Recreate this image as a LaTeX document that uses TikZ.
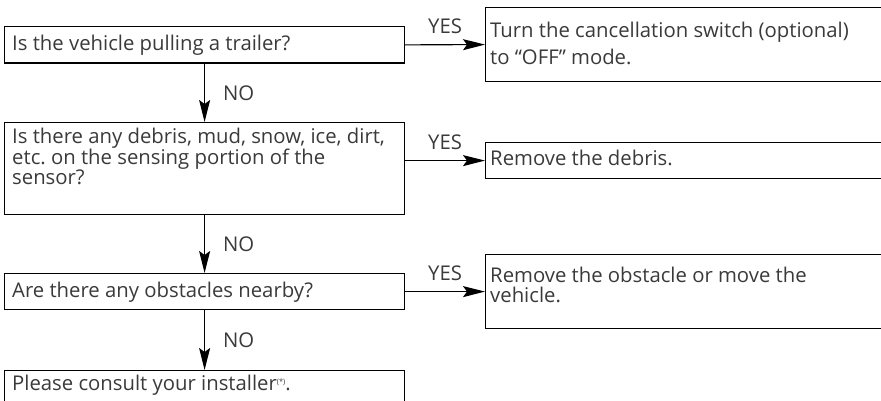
\documentclass[tikz,border=0pt]{standalone}
\usepackage{fontspec}
\setmainfont{Open Sans}
\usetikzlibrary{arrows.meta}
\definecolor{txtgray}{RGB}{58,58,58}
\newcommand{\ftxt}{\fontsize{20.3}{20}\selectfont\frenchspacing}
\tikzset{
  box/.style={draw=black, line width=1.2pt, rectangle, inner sep=0pt, anchor=north west},
  txt/.style={anchor=base west, inner sep=0pt, text=txtgray, font=\ftxt},
  conn/.style={draw=black, line width=1.1pt, -{Stealth[length=22pt,width=11pt,inset=4pt]}},
  lbl/.style={inner sep=0pt, text=txtgray, font=\ftxt}
}
\begin{document}
\begin{tikzpicture}[x=1pt,y=-1pt]
\useasboundingbox (0,0) rectangle (881,401);
\clip (0,0) rectangle (881,401);
% boxes
\node[box, minimum width=400pt, minimum height=36.5pt] (l1) at (4,26) {};
\node[box, minimum width=420pt, minimum height=74pt] (r1) at (485,7) {};
\node[box, minimum width=400pt, minimum height=92pt] (l2) at (4,122) {};
\node[box, minimum width=420pt, minimum height=36pt] (r2) at (485,142) {};
\node[box, minimum width=400pt, minimum height=36pt] (l3) at (4,273) {};
\node[box, minimum width=420pt, minimum height=74pt] (r3) at (485,254) {};
\node[box, minimum width=400pt, minimum height=60pt] (l4) at (4,370) {};
% texts
\node[txt] (t1) at (12,50.5) {Is the vehicle pulling a trailer?};
\node[txt, font=\fontsize{20.3}{27}\selectfont] (tr1) at (490,38) {\vtop{\hbox{Turn the cancellation switch (optional)}\hbox{to “OFF” mode.}}};
\node[txt] (tl2) at (12,143.5) {\vtop{\hbox{Is there any debris, mud, snow, ice, dirt,}\hbox{etc.\ on the sensing portion of the}\hbox{sensor?}}};
\node[txt] (tr2) at (490,165.5) {Remove the debris.};
\node[txt] (tl3) at (12,297) {Are there any obstacles nearby?};
\node[txt] (tr3) at (490,282.5) {\vtop{\hbox{Remove the obstacle or move the}\hbox{vehicle.}}};
\node[txt] (tl4) at (12,390.5) {Please consult your installer\raisebox{6.5pt}{\fontsize{7.5}{7.5}\selectfont(*)}.};
% connectors
\draw[conn] (l1.east) -- (r1.west) node[midway, lbl, anchor=south, yshift=10pt] (yes1) {YES};
\draw[conn] (l2.east |- r2.west) -- (r2.west) node[midway, lbl, anchor=south, yshift=10pt] (yes2) {YES};
\draw[conn] (l3.east) -- (r3.west) node[midway, lbl, anchor=south, yshift=10pt] (yes3) {YES};
\draw[conn] (l1.south) -- (l2.north) node[midway, lbl, anchor=west, xshift=18pt] (no1) {NO};
\draw[conn] (l2.south) -- (l3.north) node[midway, lbl, anchor=west, xshift=18pt] (no2) {NO};
\draw[conn] (l3.south) -- (l4.north) node[midway, lbl, anchor=west, xshift=18pt] (no3) {NO};
\end{tikzpicture}
\end{document}
